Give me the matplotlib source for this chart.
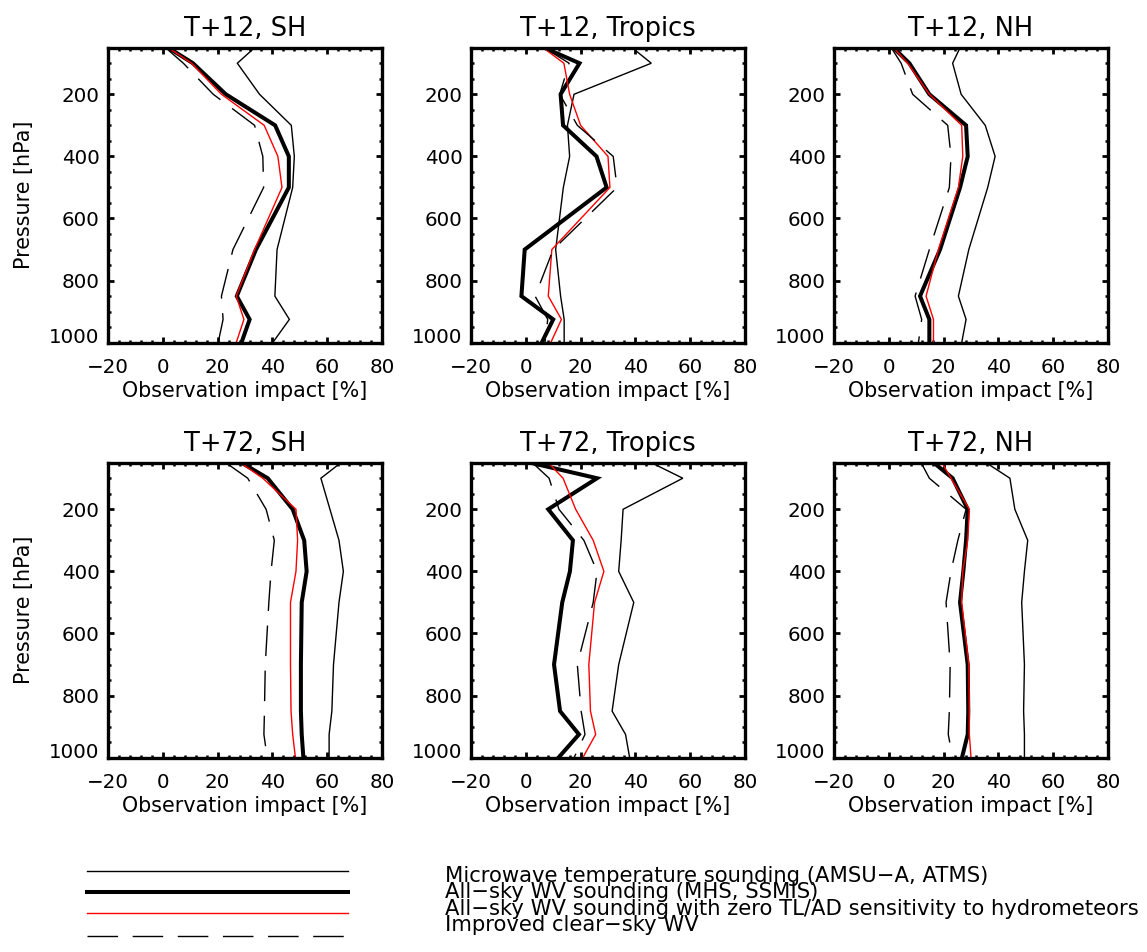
import matplotlib
matplotlib.use("Agg")
import matplotlib.pyplot as plt
from matplotlib.ticker import MultipleLocator

plt.rcParams['font.family'] = ['DejaVu Sans']

pressure = [50, 100, 200, 300, 400, 500, 700, 850, 925, 1000]

titles = ["T+12, SH", "T+12, Tropics", "T+12, NH",
          "T+72, SH", "T+72, Tropics", "T+72, NH"]

series_names = [
    "Microwave temperature sounding (AMSU\u2212A, ATMS)",
    "All\u2212sky WV sounding (MHS, SSMIS)",
    "All\u2212sky WV sounding with zero TL/AD sensitivity to hydrometeors",
    "Improved clear\u2212sky WV",
]

# Microwave temperature sounding (thin black)
mw_t12_sh = [33.5, 27.2, 35.3, 46.9, 48.0, 47.4, 41.7, 40.9, 46.2, 40.1]
mw_t12_tr = [38.8, 45.8, 17.6, 15.2, 16.0, 13.7, 10.9, 12.7, 14.0, 14.0]
mw_t12_nh = [26.0, 23.3, 26.4, 35.2, 38.8, 36.1, 29.2, 25.4, 28.2, 26.6]
mw_t72_sh = [65.0, 57.7, 61.0, 64.3, 65.9, 64.3, 62.3, 61.7, 60.7, 60.7]
mw_t72_tr = [45.8, 57.3, 35.5, 34.8, 33.9, 39.4, 33.9, 31.5, 36.4, 37.9]
mw_t72_nh = [35.5, 44.2, 46.0, 50.7, 49.5, 48.5, 49.5, 49.2, 49.5, 49.5]

# All-sky WV sounding (thick black)
as_t12_sh = [2.0, 11.0, 23.0, 41.0, 46.0, 46.0, 34.0, 27.0, 31.7, 28.7]
as_t12_tr = [6.7, 19.6, 12.7, 13.6, 25.8, 29.5, -0.4, -1.6, 10.0, 5.8]
as_t12_nh = [1.7, 7.5, 14.8, 28.2, 28.8, 26.0, 18.7, 11.4, 14.8, 14.8]
as_t72_sh = [28.7, 38.3, 47.4, 51.6, 52.5, 50.7, 50.4, 50.4, 50.7, 51.3]
as_t72_tr = [1.6, 26.0, 8.2, 17.2, 16.1, 13.3, 10.3, 12.5, 19.4, 11.9]
as_t72_nh = [16.4, 23.3, 28.8, 28.2, 27.2, 26.0, 28.8, 29.0, 28.8, 26.7]

# All-sky WV with zero TL/AD sensitivity (red)
zs_t12_sh = [2.0, 10.5, 21.4, 37.0, 42.0, 43.5, 33.5, 26.8, 29.6, 26.8]
zs_t12_tr = [6.3, 13.9, 16.0, 20.0, 30.0, 30.7, 9.5, 8.2, 13.0, 9.1]
zs_t12_nh = [1.7, 6.9, 14.8, 26.6, 27.0, 25.4, 18.1, 13.6, 16.3, 16.3]
zs_t72_sh = [28.3, 36.5, 48.6, 49.2, 48.6, 46.6, 46.6, 46.8, 47.4, 48.4]
zs_t72_tr = [8.2, 13.6, 18.2, 24.6, 28.5, 25.1, 23.0, 23.6, 25.5, 20.8]
zs_t72_nh = [19.4, 22.7, 29.4, 28.8, 27.0, 26.6, 29.2, 29.4, 29.4, 30.0]

# Improved clear-sky WV (dashed)
cs_t12_sh = [1.0, 7.5, 18.4, 33.5, 36.5, 36.8, 25.6, 21.4, 22.0, 20.2]
cs_t12_tr = [6.7, 15.8, 12.4, 18.8, 31.9, 33.3, 10.0, 3.4, 8.0, 7.0]
cs_t12_nh = [0.9, 4.5, 8.7, 21.5, 22.7, 22.1, 14.8, 9.6, 12.0, 10.8]
cs_t72_sh = [23.0, 31.0, 37.7, 40.7, 39.5, 38.7, 37.4, 37.1, 36.9, 38.1]
cs_t72_tr = [2.4, 8.5, 12.1, 21.2, 26.0, 24.6, 18.8, 20.2, 21.6, 17.6]
cs_t72_nh = [11.8, 14.8, 28.2, 25.2, 22.7, 20.9, 22.4, 22.1, 21.7, 23.3]

mw = [mw_t12_sh, mw_t12_tr, mw_t12_nh, mw_t72_sh, mw_t72_tr, mw_t72_nh]
allsky = [as_t12_sh, as_t12_tr, as_t12_nh, as_t72_sh, as_t72_tr, as_t72_nh]
zerosens = [zs_t12_sh, zs_t12_tr, zs_t12_nh, zs_t72_sh, zs_t72_tr, zs_t72_nh]
clearsky = [cs_t12_sh, cs_t12_tr, cs_t12_nh, cs_t72_sh, cs_t72_tr, cs_t72_nh]

W, H = 1147, 952
fig = plt.figure(figsize=(W / 100, H / 100), dpi=100)

lefts = [108, 471, 834]
tops = [47.7, 462.7]
aw, ah = 274, 295

styles = [
    dict(color='black', lw=1.0),
    dict(color='black', lw=2.9),
    dict(color='#ff0000', lw=1.0),
    dict(color='black', lw=1.0, dashes=(22, 10.5)),
]

TICK_FS = 14.3
LAB_FS = 14.9
LEG_FS = 15.2
TITLE_FS = 18.5

for i in range(6):
    r, c = divmod(i, 3)
    ax = fig.add_axes([lefts[c] / W, 1 - (tops[r] + ah) / H, aw / W, ah / H])
    for data, st in zip([mw[i], allsky[i], zerosens[i], clearsky[i]], styles):
        ax.plot(data, pressure, solid_joinstyle='miter', **st)
    ax.set_xlim(-20, 80)
    ax.set_ylim(1000, 50)
    ax.set_xticks([-20, 0, 20, 40, 60, 80])
    ax.set_yticks([200, 400, 600, 800, 1000])
    ax.xaxis.set_minor_locator(MultipleLocator(4))
    ax.yaxis.set_minor_locator(MultipleLocator(50))
    ax.tick_params(which='both', direction='in', top=True, right=True,
                   labelsize=TICK_FS, width=2)
    ax.tick_params(which='major', length=4.5)
    ax.tick_params(axis='x', which='major', pad=11)
    ax.tick_params(axis='y', which='major', pad=6)
    ax.tick_params(which='minor', length=2.5, width=1.8)
    for sp in ax.spines.values():
        sp.set_linewidth(2.4)
    ax.set_title(titles[i], fontsize=TITLE_FS, pad=8.5)
    ax.set_xlabel("Observation impact [%]", fontsize=LAB_FS, labelpad=3)
    if c == 0:
        ax.set_ylabel("Pressure [hPa]", fontsize=LAB_FS, labelpad=11)
    ylabs = ax.get_yticklabels()
    ylabs[-1].set_verticalalignment('baseline')

# Legend drawn in figure coordinates
leg_ax = fig.add_axes([0, 0, 1, 1], frameon=False)
leg_ax.set_xlim(0, W)
leg_ax.set_ylim(H, 0)
leg_ax.set_axis_off()
line_y = [870.7, 892.3, 913.3, 935.7]
for k, st in enumerate(styles):
    leg_ax.plot([86.7, 348], [line_y[k], line_y[k]], **st)
leg_ax.text(445, 866, "\n".join(series_names), fontsize=LEG_FS,
            va='top', ha='left', linespacing=0.78)

fig.savefig("out.png", dpi=100)
